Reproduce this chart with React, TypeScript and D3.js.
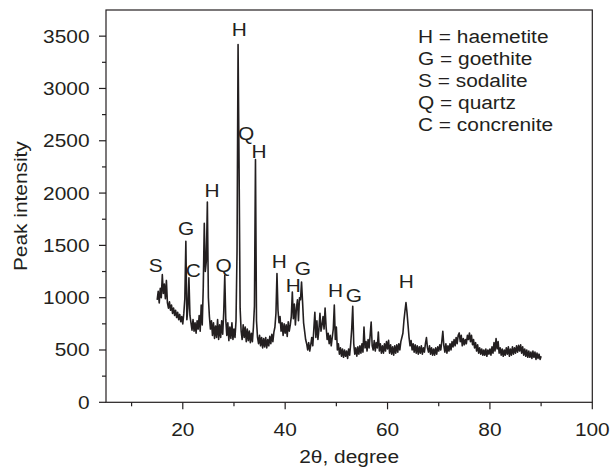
import React from "react";
import * as d3 from "d3";

// XRD pattern, sampled every 0.2 degrees from 15.0 to 90.0 (2θ)
const angleStart = 15;
const angleStep = 0.2;
const intensity: number[] = [
  // 15
  980, 1060, 950, 1090, 1000,
  1220, 1040, 1130, 990, 1165,
  950, 900, 960, 880, 930,
  850, 900, 830, 880, 810,
  860, 790, 840, 770, 820,
  // 20
  750, 850, 990, 1540, 790,
  900, 1190, 830, 760, 690,
  790, 680, 760, 660, 780,
  700, 830, 680, 930, 740,
  1100, 1710, 1250, 1350, 1915,
  // 25
  1000, 820, 700, 780, 640,
  760, 610, 730, 620, 790,
  600, 740, 620, 780, 650,
  860, 1215, 790, 640, 760,
  590, 720, 610, 760, 600,
  // 30
  700, 620, 780, 1450, 3420,
  2230, 900, 680, 600, 740,
  620, 720, 580, 700, 590,
  680, 570, 660, 580, 720,
  920, 2320, 780, 620, 560,
  // 35
  640, 540, 620, 520, 610,
  530, 620, 520, 600, 540,
  630, 560, 650, 580, 670,
  720, 850, 1230, 880, 760,
  820, 680, 760, 640, 750,
  // 40
  660, 740, 630, 770, 680,
  740, 820, 1055, 800, 940,
  740, 900, 980, 780, 1000,
  980, 1150, 960, 760, 680,
  600, 560, 500, 570, 490,
  // 45
  550, 620, 540, 700, 860,
  620, 780, 600, 700, 850,
  680, 740, 820, 700, 900,
  720, 600, 660, 560, 640,
  540, 620, 700, 930, 600,
  // 50
  720, 500, 560, 460, 520,
  440, 510, 430, 500, 440,
  490, 420, 510, 450, 560,
  700, 918, 560, 460, 520,
  440, 530, 460, 540, 470,
  // 55
  560, 480, 720, 520, 580,
  490, 600, 520, 640, 768,
  540, 500, 590, 490, 570,
  520, 672, 490, 560, 470,
  540, 470, 560, 490, 580,
  // 60
  510, 593, 470, 550, 460,
  530, 450, 540, 470, 550,
  480, 560, 500, 580, 620,
  660, 780, 870, 953, 860,
  740, 620, 540, 590, 500,
  // 65
  560, 480, 550, 470, 540,
  460, 530, 470, 540, 460,
  520, 480, 560, 619, 520,
  480, 540, 460, 520, 450,
  510, 450, 520, 460, 530,
  // 70
  490, 550, 500, 580, 679,
  540, 480, 560, 470, 540,
  490, 560, 500, 580, 530,
  600, 540, 620, 560, 640,
  663, 580, 640, 540, 610,
  // 75
  550, 600, 560, 640, 600,
  663, 580, 640, 550, 600,
  520, 570, 490, 550, 470,
  520, 460, 510, 450, 500,
  450, 510, 440, 500, 460,
  // 80
  510, 450, 530, 470, 570,
  490, 609, 510, 580, 470,
  520, 450, 510, 440, 500,
  450, 520, 460, 530, 440,
  510, 450, 530, 460, 520,
  // 85
  470, 540, 480, 545, 490,
  550, 470, 530, 450, 510,
  440, 500, 430, 490, 430,
  480, 420, 490, 430, 480,
  410, 470, 420, 460, 410,
  // 90
  440,
];

// Peak annotations: letter, 2θ position, label baseline level (intensity units)
const peakLetters = ["S", "G", "C", "H", "Q", "H", "Q", "H", "H", "H", "G", "H", "G", "H"];
const peakAngles = [14.69, 20.64, 22.07, 25.72, 28.0, 31.05, 32.36, 34.9, 38.87, 41.6, 43.46, 49.84, 53.42, 63.67];
const peakLevels = [1245, 1598, 1197, 1959, 1245, 3500, 2506, 2331, 1283, 1059, 1216, 1009, 954, 1092];

const legendLines = ["H = haemetite", "G = goethite", "S = sodalite", "Q = quartz", "C = concrenite"];

const xTicks = [20, 40, 60, 80, 100];
const xMinorTicks = [10, 30, 50, 70, 90];
const yTicks = [0, 500, 1000, 1500, 2000, 2500, 3000, 3500];
const yMinorTicks = [250, 750, 1250, 1750, 2250, 2750, 3250];

const xDomain = [5, 100];
const yDomain = [0, 3750];

const W = 614;
const H = 471;
const plot = { left: 106, right: 592.3, top: 10, bottom: 402.3 };
const ink = "#231f20";
const FONT = "'Liberation Sans', Arial, Helvetica, sans-serif";
const SX = 1.16;

function T({ x, y, anchor = "start", rotate = 0, size = 18, children }: any) {
  return (
    <text
      transform={`translate(${x},${y}) rotate(${rotate}) scale(${SX},1)`}
      textAnchor={anchor}
      fontSize={size}
      fontFamily={FONT}
      fill={ink}
    >
      {children}
    </text>
  );
}

export default function App() {
  const x = d3.scaleLinear().domain(xDomain).range([plot.left, plot.right]);
  const y = d3.scaleLinear().domain(yDomain).range([plot.bottom, plot.top]);

  const points: [number, number][] = intensity.map((v, i) => [angleStart + i * angleStep, v]);
  const line = d3
    .line<[number, number]>()
    .x((d) => x(d[0]))
    .y((d) => y(d[1]));

  const legendX = plot.left + 312;
  const legendY0 = plot.top + 33;
  const legendDy = 22;

  return (
    <svg
      width={W}
      height={H}
      viewBox={`0 0 ${W} ${H}`}
      style={{ position: "absolute", left: 0, top: 0, background: "#fff" }}
    >
      <rect x={0} y={0} width={W} height={H} fill="#fff" />
      {/* frame */}
      <rect
        x={plot.left}
        y={plot.top}
        width={plot.right - plot.left}
        height={plot.bottom - plot.top}
        fill="none"
        stroke={ink}
        strokeWidth={1.2}
      />
      {/* x ticks */}
      {xTicks.map((t) => (
        <g key={"xt" + t}>
          <line x1={x(t)} x2={x(t)} y1={plot.bottom} y2={plot.bottom + 7} stroke={ink} strokeWidth={1.2} />
          <T x={x(t)} y={436} anchor="middle">
            {t}
          </T>
        </g>
      ))}
      {xMinorTicks.map((t) => (
        <line key={"xm" + t} x1={x(t)} x2={x(t)} y1={plot.bottom} y2={plot.bottom + 4} stroke={ink} strokeWidth={1.2} />
      ))}
      {/* y ticks */}
      {yTicks.map((t) => (
        <g key={"yt" + t}>
          <line x1={plot.left - 7} x2={plot.left} y1={y(t)} y2={y(t)} stroke={ink} strokeWidth={1.2} />
          <T x={89.5} y={y(t) + 6.5} anchor="end">
            {t}
          </T>
        </g>
      ))}
      {yMinorTicks.map((t) => (
        <line key={"ym" + t} x1={plot.left - 4} x2={plot.left} y1={y(t)} y2={y(t)} stroke={ink} strokeWidth={1.2} />
      ))}
      {/* axis titles */}
      <T x={(plot.left + plot.right) / 2} y={463} anchor="middle">
        2θ, degree
      </T>
      <T x={27} y={(plot.top + plot.bottom) / 2} anchor="middle" rotate={-90}>
        Peak intensity
      </T>
      {/* data */}
      <path d={line(points) || ""} fill="none" stroke={ink} strokeWidth={1.6} strokeLinejoin="round" />
      {/* peak labels */}
      {peakLetters.map((l, i) => (
        <T key={"p" + i} x={x(peakAngles[i])} y={y(peakLevels[i])} anchor="middle">
          {l}
        </T>
      ))}
      {/* legend */}
      {legendLines.map((s, i) => (
        <T key={"l" + i} x={legendX} y={legendY0 + i * legendDy}>
          {s}
        </T>
      ))}
    </svg>
  );
}
